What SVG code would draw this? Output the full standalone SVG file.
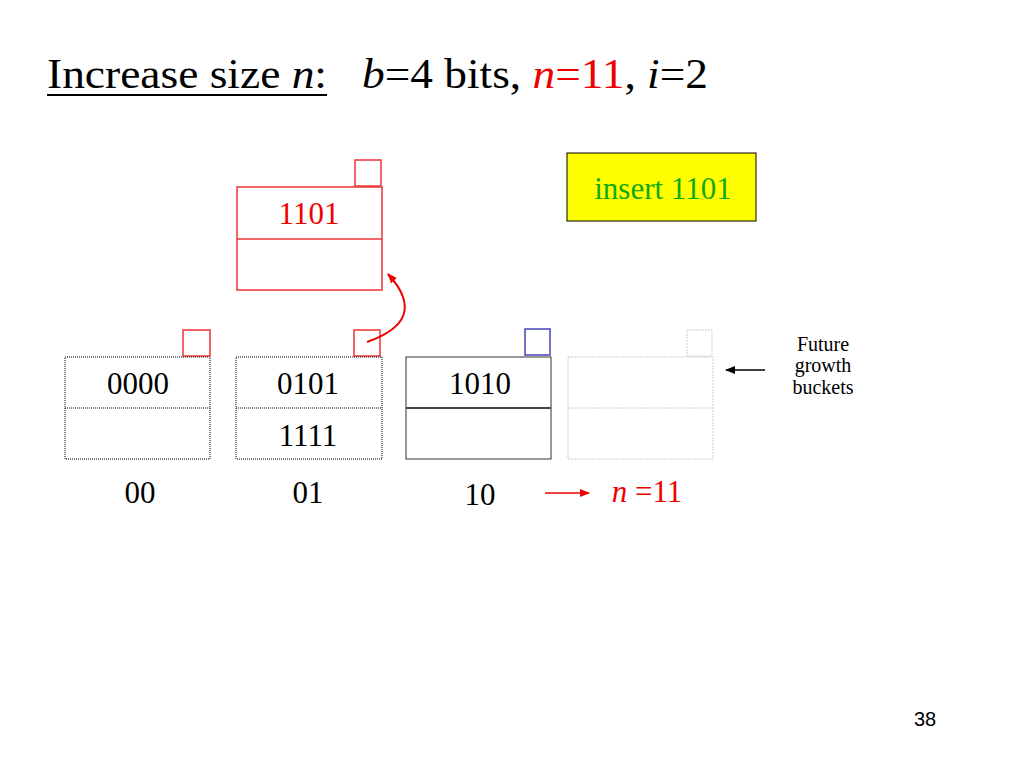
<svg xmlns="http://www.w3.org/2000/svg" width="1024" height="768" viewBox="0 0 1024 768">
<defs>
<style>
text{font-family:"Liberation Serif","Times New Roman",serif;}
.t{font-size:31px;text-anchor:middle;}
.blk{fill:none;stroke:#000;stroke-width:1;stroke-dasharray:1 1;}
.red{fill:none;stroke:#e33;stroke-width:1.5;}
.gr{fill:none;stroke:#ccc;stroke-width:1;stroke-dasharray:2 1;}
</style>
<marker id="ar" markerWidth="10" markerHeight="8" refX="9" refY="4" orient="auto" markerUnits="userSpaceOnUse"><path d="M0,0 L10,4 L0,8 Z" fill="#e00"/></marker>
<marker id="ak" markerWidth="10" markerHeight="8" refX="9" refY="4" orient="auto" markerUnits="userSpaceOnUse"><path d="M0,0 L10,4 L0,8 Z" fill="#000"/></marker>
</defs>
<rect width="1024" height="768" fill="#fff"/>
<g id="title">
<text x="47" y="88" font-size="42" textLength="280" lengthAdjust="spacingAndGlyphs">Increase size <tspan font-style="italic">n</tspan>:</text>
<line x1="47" y1="95" x2="327" y2="95" stroke="#000" stroke-width="2"/>
<text x="362" y="88" font-size="42" textLength="346" lengthAdjust="spacingAndGlyphs"><tspan font-style="italic">b</tspan>=4 bits, <tspan fill="#e00"><tspan font-style="italic">n</tspan>=11</tspan>, <tspan font-style="italic">i</tspan>=2</text>
</g>
<g id="insert">
<rect x="567" y="153" width="189" height="68" fill="#ff0" stroke="#000"/>
<text x="663" y="199" font-size="31" fill="#1a1" text-anchor="middle">insert  1101</text>
</g>
<g id="newbucket">
<rect class="red" x="355" y="160" width="26" height="26"/>
<rect class="red" x="237" y="187" width="145" height="103"/>
<line class="red" x1="237" y1="239" x2="382" y2="239"/>
<text class="t" x="309" y="224" fill="#e00">1101</text>
</g>
<g id="b00">
<rect class="red" x="183" y="330" width="27" height="26"/>
<rect class="blk" x="65" y="357" width="145" height="102"/>
<line class="blk" x1="65" y1="408" x2="210" y2="408"/>
<text class="t" x="138" y="394">0000</text>
<text class="t" x="140" y="503">00</text>
</g>
<g id="b01">
<rect class="red" x="354" y="330" width="26" height="26"/>
<rect class="blk" x="236" y="357" width="146" height="102"/>
<line class="blk" x1="236" y1="408" x2="382" y2="408"/>
<text class="t" x="308" y="394">0101</text>
<text class="t" x="308" y="446">1111</text>
<text class="t" x="308" y="503">01</text>
</g>
<g id="b10">
<rect x="525" y="329" width="25" height="26" fill="none" stroke="#44b" stroke-width="1.5"/>
<rect x="406" y="357" width="145" height="102" fill="none" stroke="#333" stroke-width="1"/>
<line x1="406" y1="408" x2="551" y2="408" stroke="#444" stroke-width="2"/>
<text class="t" x="480" y="394">1010</text>
<text class="t" x="480" y="505">10</text>
</g>
<g id="future">
<rect class="gr" x="687" y="330" width="25" height="26"/>
<rect class="gr" x="568" y="357" width="145" height="102"/>
<line class="gr" x1="568" y1="408" x2="713" y2="408"/>
<text x="823" y="351" font-size="20" text-anchor="middle">Future</text>
<text x="823" y="372" font-size="20" text-anchor="middle">growth</text>
<text x="823" y="394" font-size="20" text-anchor="middle">buckets</text>
</g>
<text x="647" y="502" font-size="31" fill="#e00" text-anchor="middle"><tspan font-style="italic">n</tspan> =11</text>
<text x="925" y="726" font-size="20" text-anchor="middle" style="font-family:'Liberation Sans',Arial,sans-serif">38</text>
<g id="connectors">
<path d="M367,342 Q430,320 388,274" fill="none" stroke="#e00" stroke-width="2" marker-end="url(#ar)"/>
<line x1="545" y1="493" x2="589" y2="493" stroke="#e00" stroke-width="1.5" marker-end="url(#ar)"/>
<line x1="765" y1="370" x2="726" y2="370" stroke="#000" stroke-width="1.5" marker-end="url(#ak)"/>
</g>
</svg>
